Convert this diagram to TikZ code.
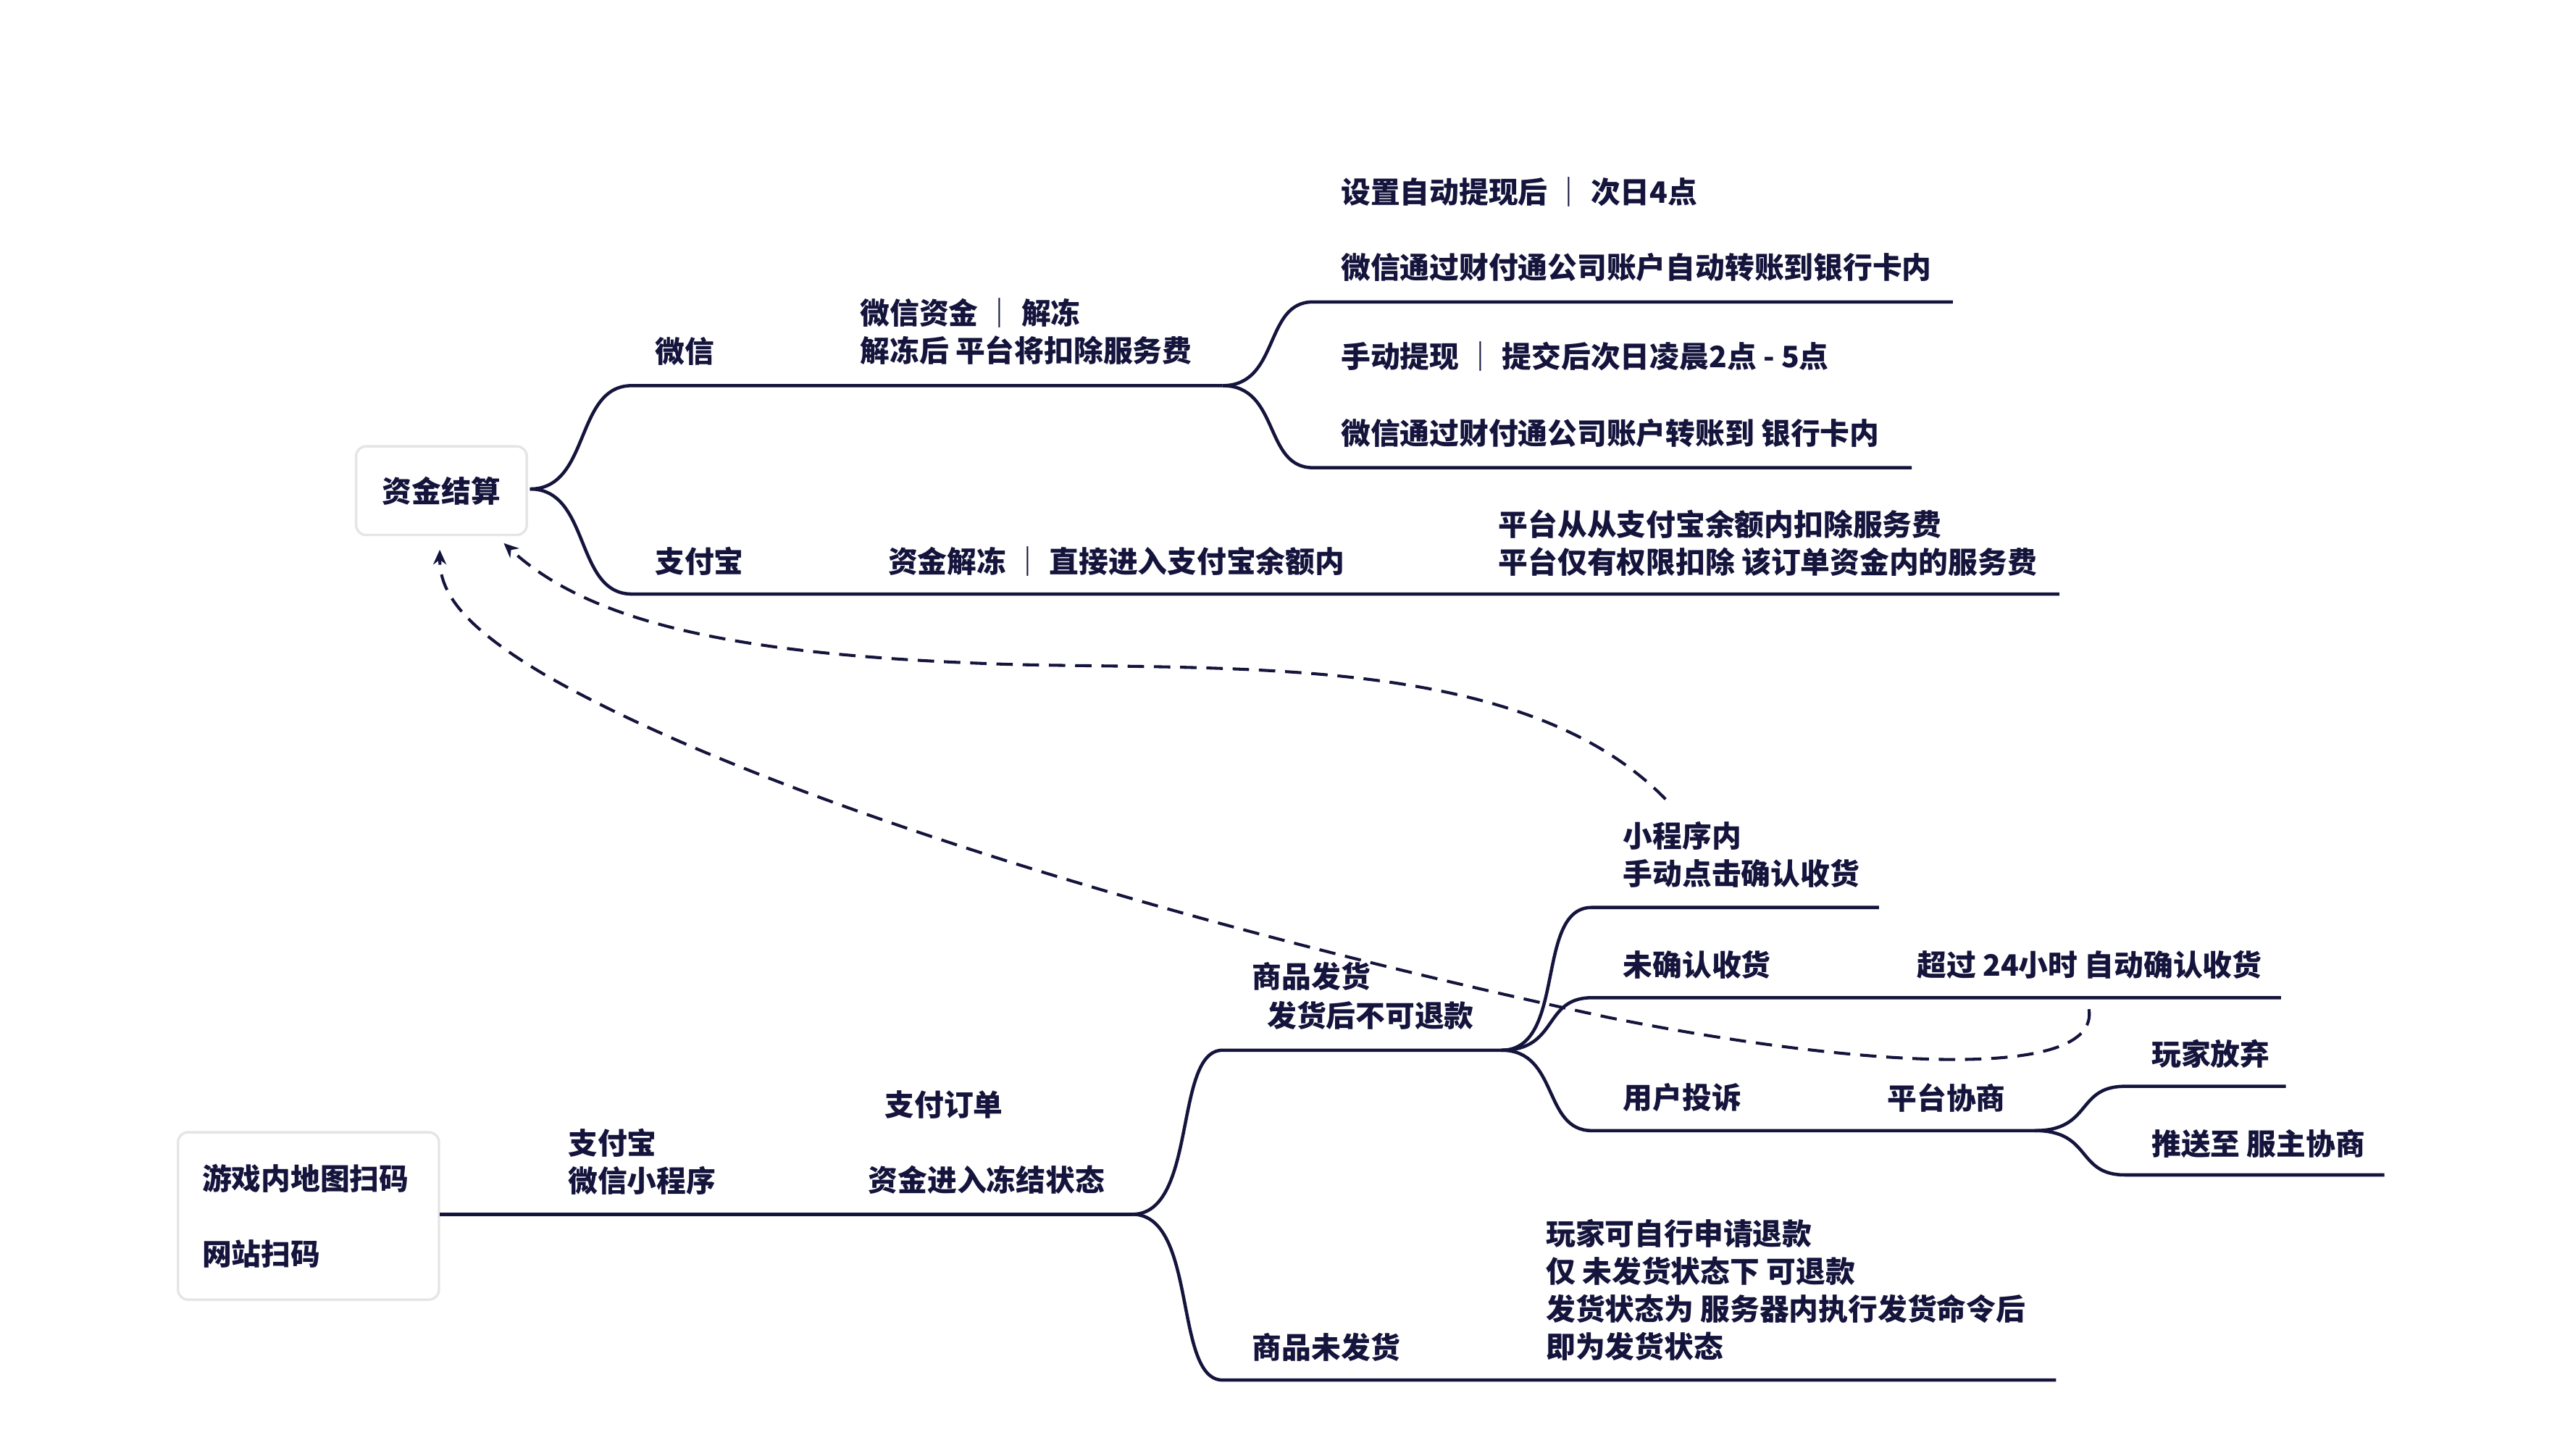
\documentclass[tikz,border=0pt]{standalone}
\usepackage{fontspec}
\setmainfont{Noto Sans CJK SC}
\usetikzlibrary{arrows.meta}
\definecolor{ink}{HTML}{14143C}
\begin{document}
\begin{tikzpicture}[x=1pt,y=-1pt,
  lbl/.style={anchor=west,inner sep=0pt,text=ink,font=\fontsize{18}{23}\selectfont\bfseries,align=left},
  ln/.style={draw=ink,line width=2pt},
  dsh/.style={draw=ink,line width=1.8pt,dash pattern=on 10pt off 6pt,-{Stealth[length=9pt,width=8pt]}},
  rootbox/.style={draw=black!10,line width=1.5pt,rounded corners=6pt,fill=white}]
\useasboundingbox (0,0) rectangle (1568,887);
% top tree
\node[rootbox,minimum width=104pt,minimum height=54pt] (root) at (269,299) {};
\node[lbl,anchor=center] (rt) at (269,299) {资金结算};
\coordinate (r0) at (323,298);
\coordinate (wx0) at (385,235); \coordinate (wx1) at (745,235);
\coordinate (zf0) at (385,362); \coordinate (zf1) at (1255,362);
\coordinate (a0) at (800,184); \coordinate (a1) at (1190,184);
\coordinate (b0) at (800,285); \coordinate (b1) at (1165,285);
\draw[ln] (r0) .. controls (360,298) and (350,235) .. (wx0) -- (wx1);
\draw[ln] (r0) .. controls (360,298) and (350,362) .. (zf0) -- (zf1);
\draw[ln] (wx1) .. controls (780,235) and (770,184) .. (a0) -- (a1);
\draw[ln] (wx1) .. controls (780,235) and (770,285) .. (b0) -- (b1);
\node[lbl] (t1) at (817,117) {设置自动提现后 ｜ 次日4点};
\node[lbl] (t2) at (817,163) {微信通过财付通公司账户自动转账到银行卡内};
\node[lbl] (t3) at (524,202) {微信资金 ｜ 解冻\\解冻后 平台将扣除服务费};
\node[lbl] (t4) at (399,214) {微信};
\node[lbl] (t5) at (817,217) {手动提现 ｜ 提交后次日凌晨2点 - 5点};
\node[lbl] (t6) at (817,264) {微信通过财付通公司账户转账到 银行卡内};
\node[lbl] (t7) at (399,342) {支付宝};
\node[lbl] (t8) at (541,342) {资金解冻 ｜ 直接进入支付宝余额内};
\node[lbl] (t9) at (913,331) {平台从从支付宝余额内扣除服务费\\平台仅有权限扣除 该订单资金内的服务费};
% bottom tree
\node[rootbox,minimum width=159pt,minimum height=102pt] (src) at (188,741) {};
\node[lbl] (s1) at (123,718) {游戏内地图扫码};
\node[lbl] (s2) at (123,764) {网站扫码};
\coordinate (p0) at (268,740); \coordinate (p1) at (690,740);
\coordinate (f0) at (745,640); \coordinate (f1) at (915,640);
\coordinate (n0) at (745,841); \coordinate (n1) at (1253,841);
\coordinate (c0) at (970,553); \coordinate (c1) at (1145,553);
\coordinate (u0) at (970,608); \coordinate (u1) at (1390,608);
\coordinate (k0) at (970,689); \coordinate (k1) at (1240,689);
\coordinate (g0) at (1295,662); \coordinate (g1) at (1393,662);
\coordinate (h0) at (1295,716); \coordinate (h1) at (1453,716);
\draw[ln] (p0) -- (p1);
\draw[ln] (p1) .. controls (730,740) and (715,640) .. (f0) -- (f1);
\draw[ln] (p1) .. controls (730,740) and (715,841) .. (n0) -- (n1);
\draw[ln] (f1) .. controls (955,640) and (935,553) .. (c0) -- (c1);
\draw[ln] (f1) .. controls (950,640) and (940,608) .. (u0) -- (u1);
\draw[ln] (f1) .. controls (950,640) and (940,689) .. (k0) -- (k1);
\draw[ln] (k1) .. controls (1275,689) and (1265,662) .. (g0) -- (g1);
\draw[ln] (k1) .. controls (1275,689) and (1265,716) .. (h0) -- (h1);
\node[lbl] (m1) at (989,521) {小程序内\\手动点击确认收货};
\node[lbl] (m2) at (989,588) {未确认收货};
\node[lbl] (m3) at (1168,588) {超过 24小时 自动确认收货};
\node[lbl] (m4) at (763,595) {商品发货};
\node[lbl] (m5) at (772,619) {发货后不可退款};
\node[lbl] (m6) at (1311,642) {玩家放弃};
\node[lbl] (m7) at (989,669) {用户投诉};
\node[lbl] (m8) at (1150,669) {平台协商};
\node[lbl] (m9) at (539,673) {支付订单};
\node[lbl] (m10) at (1311,697) {推送至 服主协商};
\node[lbl] (m11) at (346,708) {支付宝\\微信小程序};
\node[lbl] (m12) at (529,719) {资金进入冻结状态};
\node[lbl] (m13) at (942,786) {玩家可自行申请退款\\仅 未发货状态下 可退款\\发货状态为 服务器内执行发货命令后\\即为发货状态};
\node[lbl] (m14) at (763,821) {商品未发货};
% dashed
\coordinate (d1) at (1015,487);
\coordinate (d2) at (1273,615);
\coordinate (e1) at (307,331);
\coordinate (e2) at (268,335);
\draw[dsh] (d1) .. controls (930,400) and (760,408) .. (620,405) .. controls (450,400) and (360,380) .. (e1);
\draw[dsh] (d2) .. controls (1280,660) and (1130,650) .. (980,620) .. controls (700,560) and (450,480) .. (330,410) .. controls (280,380) and (268,360) .. (e2);
\end{tikzpicture}
\end{document}
